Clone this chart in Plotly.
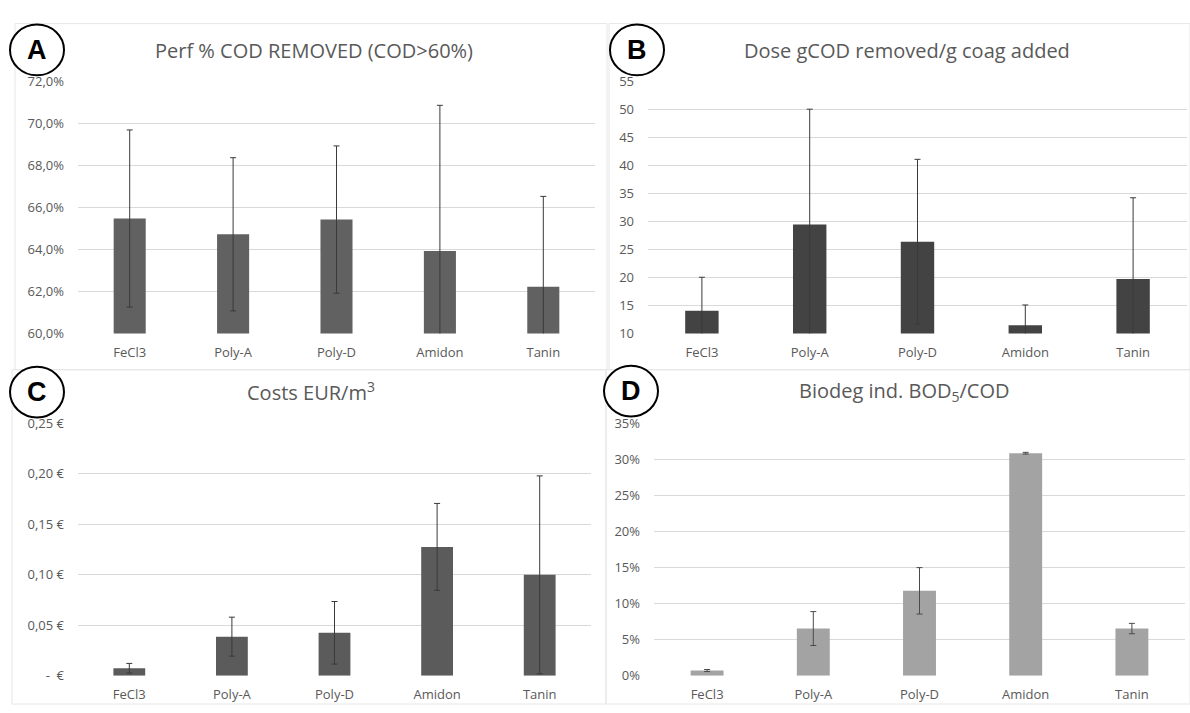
import plotly.graph_objects as go

# Coagulant comparison: four bar panels with standard-deviation error bars
categories = ["FeCl3", "Poly-A", "Poly-D", "Amidon", "Tanin"]

# A: COD removal performance (%)
perf_mean = [65.47, 64.72, 65.42, 63.92, 62.23]
perf_sd = [4.21, 3.64, 3.50, 6.93, 4.29]

# B: dose efficiency (g COD removed per g coagulant)
dose_mean = [14.06, 29.45, 26.37, 11.50, 19.75]
dose_sd = [5.98, 20.55, 14.69, 3.60, 14.46]

# C: cost (EUR per m3)
cost_mean = [0.0074, 0.0387, 0.0425, 0.1276, 0.0999]
cost_sd = [0.0048, 0.0193, 0.0310, 0.0430, 0.0980]

# D: biodegradability index BOD5/COD (%)
bio_mean = [0.72, 6.54, 11.77, 30.85, 6.54]
bio_sd = [0.14, 2.35, 3.22, 0.12, 0.72]

# Axis ticks
perf_ticks = [60, 62, 64, 66, 68, 70, 72]
perf_ticktext = ["60,0%", "62,0%", "64,0%", "66,0%", "68,0%", "70,0%", "72,0%"]
dose_ticks = [10, 15, 20, 25, 30, 35, 40, 45, 50, 55]
cost_ticks = [0, 0.05, 0.10, 0.15, 0.20, 0.25]
cost_ticktext = ["-  €", "0,05 €", "0,10 €", "0,15 €", "0,20 €", "0,25 €"]
bio_ticks = [0, 5, 10, 15, 20, 25, 30, 35]
bio_ticktext = ["0%", "5%", "10%", "15%", "20%", "25%", "30%", "35%"]

W, H = 1190, 713
FONT = "Open Sans"
TXT = "#595959"
GRID = "#d9d9d9"


def px_x(a, b):
    return [a / W, b / W]


def px_y(top, bottom):
    return [1 - bottom / H, 1 - top / H]


panels = [
    # (means, sds, colour, errcolour, x-domain px, y-domain px, range, ticks, ticktext)
    (perf_mean, perf_sd, "#616161", "#3a3a3a", (78, 595), (74, 333), [60, 72], perf_ticks, perf_ticktext),
    (dose_mean, dose_sd, "#434343", "#3a3a3a", (648, 1187), (74, 333), [10, 55], dose_ticks, [str(t) for t in dose_ticks]),
    (cost_mean, cost_sd, "#5b5b5b", "#3a3a3a", (78, 591), (425, 684), [0, 0.25], cost_ticks, cost_ticktext),
    (bio_mean, bio_sd, "#a3a3a3", "#4a4a4a", (654, 1185), (425, 684), [0, 35], bio_ticks, bio_ticktext),
]

fig = go.Figure()
layout = {}
for i, (mean, sd, col, ecol, xd, yd, yr, tv, tt) in enumerate(panels, start=1):
    sfx = "" if i == 1 else str(i)
    fig.add_trace(go.Bar(
        x=categories, y=mean,
        xaxis="x" + sfx, yaxis="y" + sfx,
        width=0.31,
        marker=dict(color=col, line=dict(width=0)),
        error_y=dict(type="data", array=sd, visible=True, thickness=1, width=3, color=ecol),
        showlegend=False,
    ))
    layout["xaxis" + sfx] = dict(
        domain=px_x(*xd), anchor="y" + sfx, type="category",
        range=[-0.5, 4.5], showgrid=False, zeroline=False, showline=False,
        ticks="", ticklabelstandoff=9,
        tickfont=dict(family=FONT, size=13, color=TXT),
    )
    layout["yaxis" + sfx] = dict(
        domain=px_y(*yd), anchor="x" + sfx, range=yr,
        tickvals=tv, ticktext=tt, showgrid=True, gridcolor=GRID, gridwidth=1,
        zeroline=False, showline=False, ticks="", ticklabelstandoff=13,
        tickfont=dict(family=FONT, size=13, color=TXT),
    )

titles = [
    ("Perf % COD REMOVED (COD>60%)", 314, 43),
    ("Dose gCOD removed/g coag added", 907, 43),
    ("Costs EUR/m<sup>3</sup>", 311, 392),
    ("Biodeg ind. BOD<sub>5</sub>/COD", 904, 392),
]
annotations = []
for text, cx, cy in titles:
    annotations.append(dict(
        text=text, x=cx / W, y=1 - cy / H, xref="paper", yref="paper",
        xanchor="center", yanchor="middle", showarrow=False,
        font=dict(family=FONT, size=20, color=TXT),
    ))

# Panel letters in circles
letters = [("A", 37, 42), ("B", 637, 42), ("C", 37, 393), ("D", 631, 392)]
shapes = []
R = 27
for letter, cx, cy in letters:
    shapes.append(dict(
        type="circle", xref="paper", yref="paper",
        x0=(cx - R) / W, x1=(cx + R) / W, y0=1 - (cy + R - 1) / H, y1=1 - (cy - R + 1) / H,
        line=dict(color="black", width=2), fillcolor="white", layer="above",
    ))
    annotations.append(dict(
        text=letter, x=cx / W, y=1 - cy / H, xref="paper", yref="paper",
        xanchor="center", yanchor="middle", showarrow=False,
        font=dict(family="Liberation Sans", size=27, color="black", weight="bold"),
    ))

# Faint panel frames
frame = dict(color="#e6e6e6", width=1)
for x0, y0, x1, y1 in [(15, 15, 607, 370), (609, 15, 1190, 370), (12, 370, 606, 713), (606, 370, 1190, 713)]:
    shapes.insert(0, dict(type="rect", xref="paper", yref="paper",
                          x0=x0 / W, x1=x1 / W, y0=1 - y1 / H, y1=1 - y0 / H,
                          line=frame, fillcolor="rgba(0,0,0,0)", layer="below"))

fig.update_layout(
    width=W, height=H, margin=dict(l=0, r=0, t=0, b=0),
    paper_bgcolor="white", plot_bgcolor="white",
    annotations=annotations, shapes=shapes, **layout,
)

fig.write_html("out.html")
